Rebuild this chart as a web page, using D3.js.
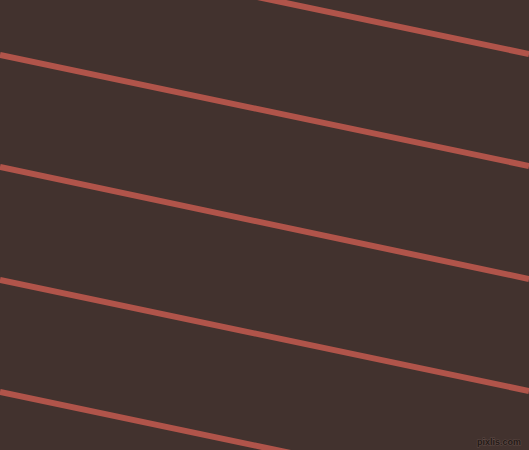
<!DOCTYPE html>
<html><head><meta charset="utf-8">
<script src="https://cdn.jsdelivr.net/npm/d3@7"></script>
<style>html,body{margin:0;padding:0;background:#42322e;overflow:hidden}</style>
</head><body>
<script>
// Stripe lines: y where each line meets the left edge and the right edge
const lineIds = [1, 2, 3, 4, 5];
const leftY = [-57, 55, 167, 280, 392];
const rightY = [54, 166, 279, 391, 503];
const watermark = "pixlis.com";

const W = 529, H = 450;
const svg = d3.select("body").append("svg").attr("width", W).attr("height", H);
svg.append("rect").attr("width", W).attr("height", H).attr("fill", "#42322e");

const x = d3.scaleLinear().domain([0, 1]).range([0, W]);
const y = d3.scaleLinear().domain([0, H]).range([0, H]);
const line = d3.line().x(d => x(d[0])).y(d => y(d[1]));

svg.selectAll("path.stripe")
  .data(lineIds.map((id, i) => [[0, leftY[i]], [1, rightY[i]]]))
  .join("path")
  .attr("class", "stripe")
  .attr("d", line)
  .attr("fill", "none")
  .attr("stroke", "#b0544a")
  .attr("stroke-width", 6);

svg.append("text")
  .attr("x", 521).attr("y", 445)
  .attr("text-anchor", "end")
  .attr("font-family", "Liberation Sans Narrow, Liberation Sans, sans-serif")
  .attr("font-weight", "bold")
  .attr("font-size", 9)
  .attr("fill", "#241a17")
  .attr("stroke", "#5c4843").attr("stroke-width", 1.2).attr("paint-order", "stroke")
  .text(watermark);
</script>
</body></html>
